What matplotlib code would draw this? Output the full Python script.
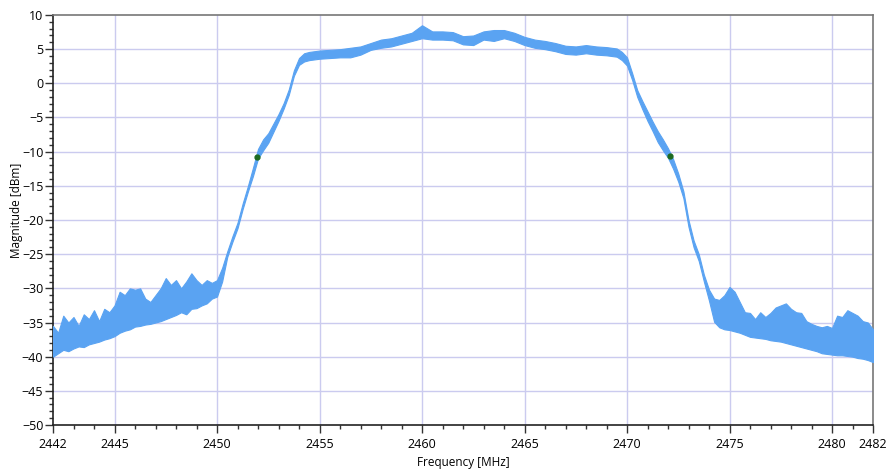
import numpy as np
import matplotlib
matplotlib.use("Agg")
import matplotlib.pyplot as plt
from matplotlib.ticker import MultipleLocator, FixedLocator

plt.rcParams['font.family'] = ['Open Sans', 'DejaVu Sans']

# spectrum trace: frequency [MHz], upper / lower edge of the noisy trace [dBm]
freq_mhz = [
    2442.00, 2442.25, 2442.50, 2442.75, 2443.00, 2443.25, 2443.50, 2443.75,
    2444.00, 2444.25, 2444.50, 2444.75, 2445.00, 2445.25, 2445.50, 2445.75,
    2446.00, 2446.25, 2446.50, 2446.75, 2447.00, 2447.25, 2447.50, 2447.75,
    2448.00, 2448.25, 2448.50, 2448.75, 2449.00, 2449.25, 2449.50, 2449.75,
    2450.00, 2450.25, 2450.50, 2450.75, 2451.00, 2451.25, 2451.50, 2451.75,
    2452.00, 2452.25, 2452.50, 2452.75, 2453.00, 2453.25, 2453.50, 2453.75,
    2454.00, 2454.25, 2454.50, 2455.00, 2455.50, 2456.00, 2456.50, 2457.00,
    2457.50, 2458.00, 2458.50, 2459.00, 2459.50, 2460.00, 2460.50, 2461.00,
    2461.50, 2462.00, 2462.50, 2463.00, 2463.50, 2464.00, 2464.50, 2465.00,
    2465.50, 2466.00, 2466.50, 2467.00, 2467.50, 2468.00, 2468.50, 2469.00,
    2469.50, 2469.75, 2470.00, 2470.25, 2470.50, 2470.75, 2471.00, 2471.25,
    2471.50, 2471.75, 2472.00, 2472.25, 2472.50, 2472.75, 2473.00, 2473.25,
    2473.50, 2473.75, 2474.00, 2474.25, 2474.50, 2474.75, 2475.00, 2475.25,
    2475.50, 2475.75, 2476.00, 2476.25, 2476.50, 2476.75, 2477.00, 2477.25,
    2477.50, 2477.75, 2478.00, 2478.25, 2478.50, 2478.75, 2479.00, 2479.25,
    2479.50, 2479.75, 2480.00, 2480.25, 2480.50, 2480.75, 2481.00, 2481.25,
    2481.50, 2481.75, 2482.00,
]
upper_db = [
    -35.5, -36.5, -34.0, -35.0, -34.2, -35.5, -33.8, -34.5,
    -33.2, -34.8, -33.0, -33.5, -32.5, -30.5, -31.0, -30.0,
    -30.2, -30.0, -31.5, -32.0, -31.0, -30.0, -28.5, -29.5,
    -28.8, -30.0, -29.0, -27.8, -28.8, -29.5, -28.8, -29.2,
    -28.8, -27.0, -24.6, -22.4, -20.4, -17.6, -15.1, -12.4,
    -9.6, -8.2, -7.3, -5.9, -4.5, -2.9, -0.9, 1.9,
    3.7, 4.4, 4.6, 4.8, 4.9, 5.0, 5.2, 5.4,
    5.9, 6.4, 6.6, 7.0, 7.4, 8.5, 7.6, 7.6,
    7.5, 6.9, 7.0, 7.6, 7.8, 7.8, 7.4, 6.8,
    6.4, 6.2, 5.9, 5.5, 5.4, 5.6, 5.4, 5.3,
    5.1, 4.6, 3.8, 1.5, -1.0, -2.6, -4.1, -5.6,
    -7.0, -8.2, -9.5, -11.1, -13.2, -15.8, -20.0, -23.0,
    -25.0, -28.0, -30.2, -31.5, -31.7, -31.0, -29.8, -30.5,
    -32.0, -33.5, -33.6, -34.5, -33.5, -34.2, -33.6, -32.8,
    -32.5, -32.2, -33.0, -33.5, -33.6, -34.8, -35.2, -35.5,
    -35.7, -35.5, -35.8, -34.0, -34.2, -33.2, -33.6, -34.0,
    -34.8, -35.0, -36.0,
]
lower_db = [
    -40.0, -39.5, -39.0, -39.2, -38.8, -38.5, -38.6, -38.2,
    -38.0, -37.8, -37.5, -37.3, -37.0, -36.5, -36.2, -36.0,
    -35.6, -35.5, -35.3, -35.2, -35.0, -34.8, -34.5, -34.2,
    -33.9, -33.5, -33.8, -33.0, -32.9, -32.5, -32.2, -31.5,
    -31.2, -29.0, -25.4, -23.2, -21.2, -18.4, -15.9, -13.6,
    -11.0, -9.8, -8.7, -7.1, -5.5, -3.7, -1.7, 1.1,
    2.7, 3.2, 3.4, 3.6, 3.7, 3.8, 3.8, 4.2,
    4.9, 5.2, 5.4, 5.8, 6.2, 6.6, 6.4, 6.4,
    6.3, 5.7, 5.6, 6.4, 6.2, 6.6, 6.2, 5.6,
    5.2, 5.0, 4.7, 4.3, 4.2, 4.4, 4.2, 4.1,
    3.9, 3.4, 2.6, 0.5, -2.0, -3.8, -5.5, -7.0,
    -8.6, -9.8, -10.9, -12.5, -14.4, -16.8, -21.0, -24.0,
    -26.0, -29.0, -31.8, -34.9, -35.7, -36.0, -36.1, -36.3,
    -36.5, -36.8, -37.1, -37.2, -37.3, -37.4, -37.6, -37.7,
    -37.8, -38.0, -38.2, -38.4, -38.6, -38.8, -39.0, -39.2,
    -39.5, -39.6, -39.7, -39.8, -39.8, -39.9, -40.0, -40.2,
    -40.3, -40.5, -40.8,
]

# -10 dB markers
marker_freq = [2451.95, 2472.1]
marker_db = [-10.8, -10.7]

x_ticks = [2442, 2445, 2450, 2455, 2460, 2465, 2470, 2475, 2480, 2482]
trace_color = '#5aa3f2'
grid_color = '#cbcbef'

fig = plt.figure(figsize=(8.86, 4.71), dpi=100)
ax = fig.add_axes([53/886, 1-425/471, 820/886, 410/471])

ax.fill_between(freq_mhz, lower_db, upper_db, color=trace_color, linewidth=0.8,
                edgecolor=trace_color, zorder=3)
ax.plot(marker_freq, marker_db, 'o', color='#1f6b1f', markersize=3.5, zorder=5)

ax.set_xlim(2442, 2482)
ax.set_ylim(-50, 10)

# grid
for gx in range(2445, 2481, 5):
    ax.axvline(gx, color=grid_color, linewidth=1.0, zorder=1)
for gy in range(-45, 10, 5):
    ax.axhline(gy, color=grid_color, linewidth=1.0, zorder=1)

ax.xaxis.set_major_locator(FixedLocator(x_ticks))
ax.xaxis.set_minor_locator(MultipleLocator(1))
ax.yaxis.set_major_locator(MultipleLocator(5))
ax.yaxis.set_minor_locator(MultipleLocator(1))
ax.tick_params(axis='both', which='major', length=6, width=1, labelsize=9, direction='out', color='#333333')
ax.tick_params(axis='both', which='minor', length=3, width=1, direction='out', color='#333333')
ax.tick_params(axis='y', pad=1)
ax.tick_params(axis='x', pad=3)

for side in ['left', 'bottom']:
    ax.spines[side].set_color('#222222')
    ax.spines[side].set_linewidth(1.2)
for side in ['top', 'right']:
    ax.spines[side].set_color('#777777')
    ax.spines[side].set_linewidth(1.2)

ax.set_xlabel('Frequency [MHz]', fontsize=8.5, labelpad=4)
fig.text(17/886, 1-210/471, 'Magnitude [dBm]', fontsize=8.5, rotation=90,
         ha='center', va='center')

fig.savefig('out.png', dpi=100)
